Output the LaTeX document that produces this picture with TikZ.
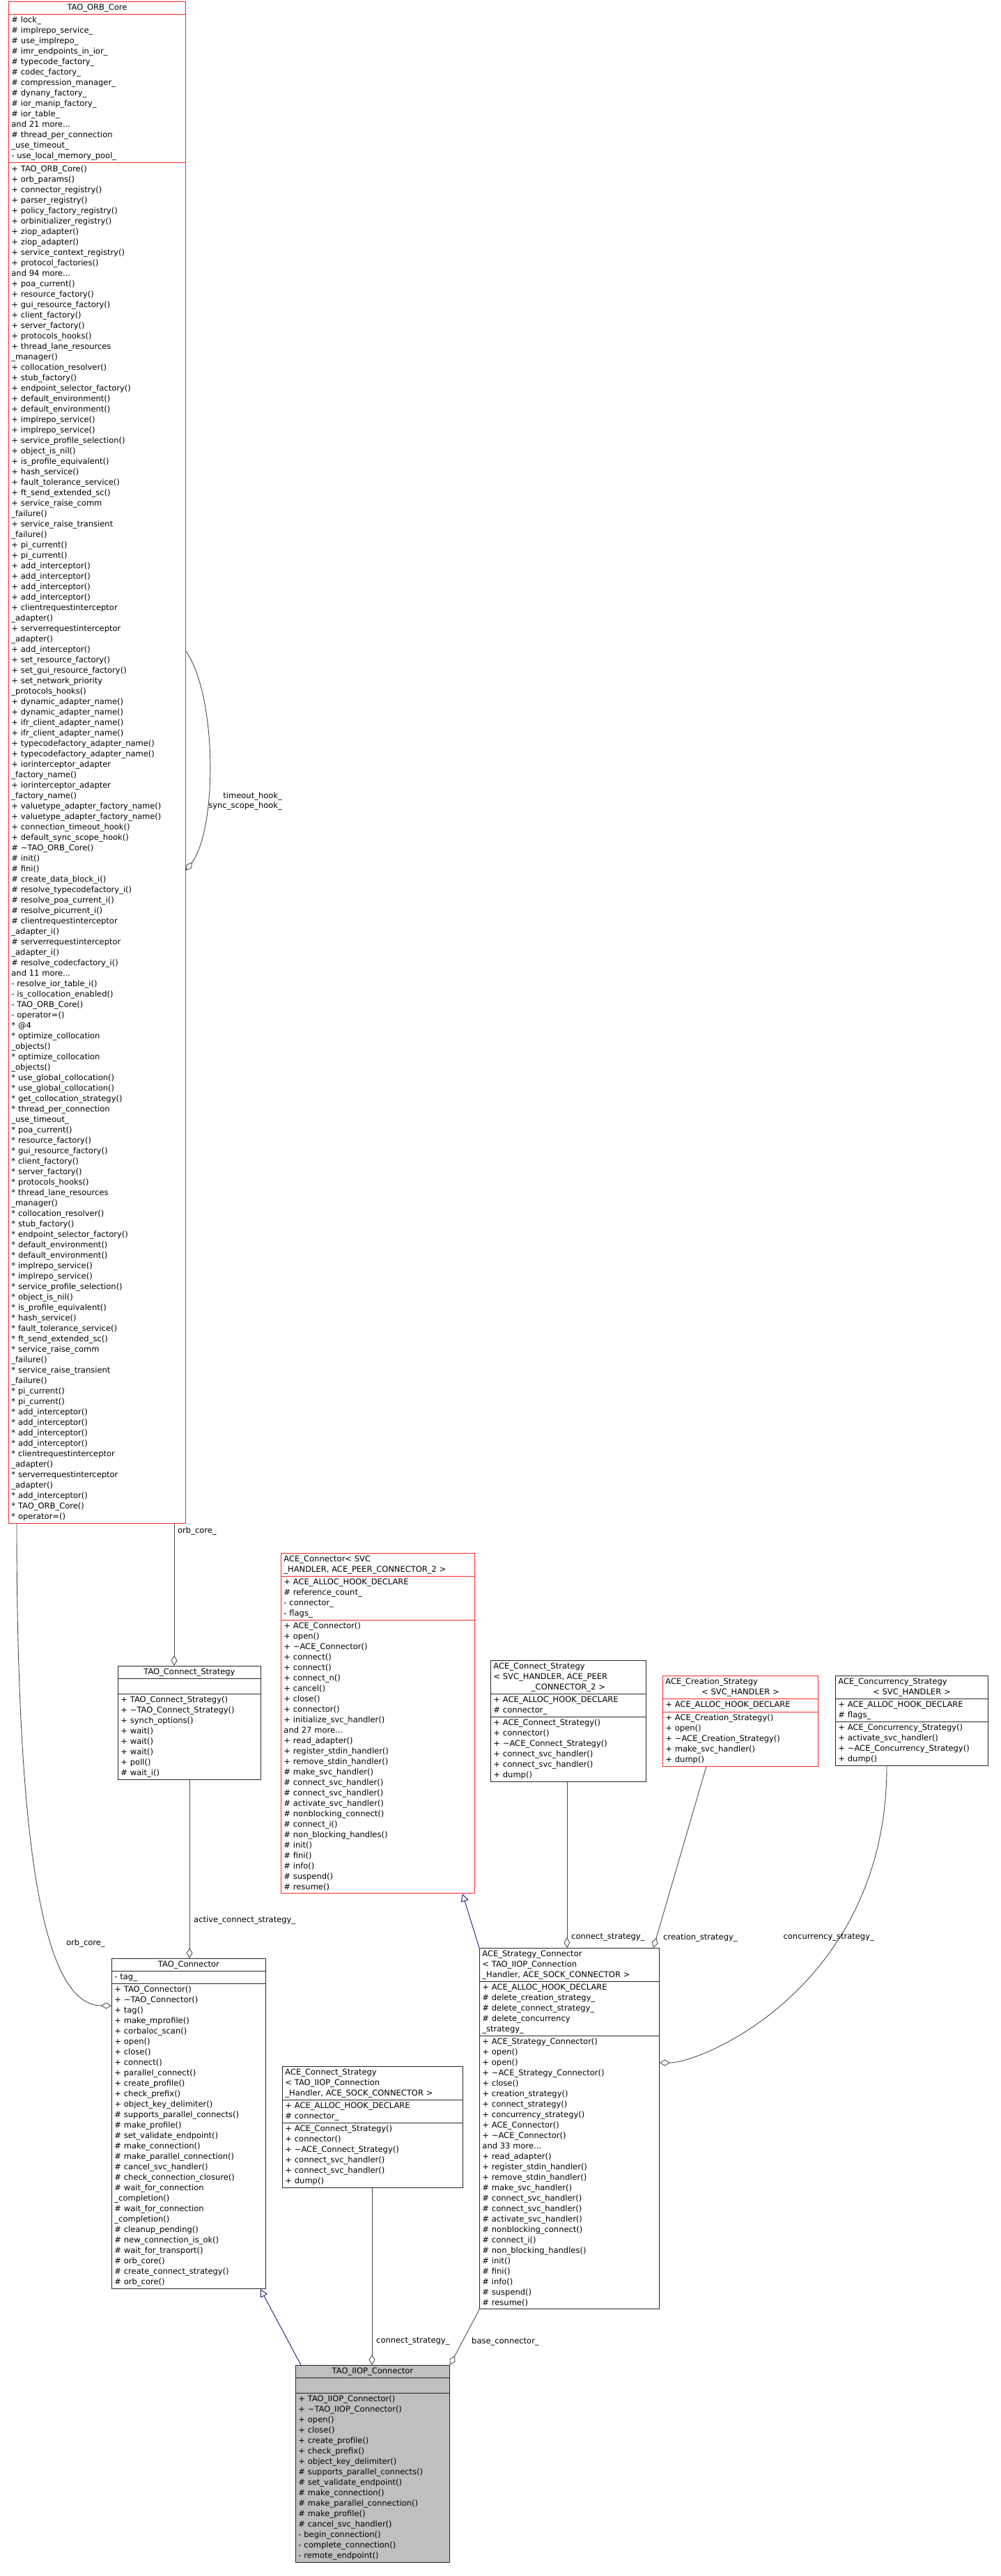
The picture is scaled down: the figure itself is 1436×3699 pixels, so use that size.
\documentclass[tikz,border=0pt]{standalone}
\usepackage{fontspec}
\setmainfont{DejaVu Sans}
\usetikzlibrary{arrows.meta, shapes.multipart}

\newcommand{\ctr}[1]{\makebox[\linewidth]{#1}}
\newcommand{\st}{\relax*}

\tikzset{
  classbox/.style={draw=black!85, line width=0.9pt, rectangle split, rectangle split parts=3,
    align=left, anchor=north west, inner xsep=4pt, inner ysep=3pt,
    font=\fontsize{11.5}{15}\selectfont},
  redbox/.style={classbox, draw=red!85},
  mainbox/.style={classbox, fill=black!25},
  inherit/.style={draw={rgb,255:red,25;green,25;blue,112}, line width=0.9pt, -{Triangle[open, length=11pt, width=11pt]}},
  member/.style={draw=black!70, line width=0.9pt, -{Diamond[open, length=15pt, width=9pt]}},
  lbl/.style={font=\fontsize{11.5}{14}\selectfont, inner sep=0pt}
}

\begin{document}
\begin{tikzpicture}[x=1pt, y=-1pt]
  \useasboundingbox (0,0) rectangle (1436,3699);

  % the core class
  \node[redbox, text width=246pt] (core) at (12,2) {\ctr{TAO\_ORB\_Core}
    \nodepart{two}\# lock\_\\\# implrepo\_service\_\\\# use\_implrepo\_\\\# imr\_endpoints\_in\_ior\_\\\# typecode\_factory\_\\\# codec\_factory\_\\\# compression\_manager\_\\\# dynany\_factory\_\\\# ior\_manip\_factory\_\\\# ior\_table\_\\and 21 more...\\\# thread\_per\_connection\\\_use\_timeout\_\\- use\_local\_memory\_pool\_
    \nodepart{three}+ TAO\_ORB\_Core()\\+ orb\_params()\\+ connector\_registry()\\+ parser\_registry()\\+ policy\_factory\_registry()\\+ orbinitializer\_registry()\\+ ziop\_adapter()\\+ ziop\_adapter()\\+ service\_context\_registry()\\+ protocol\_factories()\\and 94 more...\\+ poa\_current()\\+ resource\_factory()\\+ gui\_resource\_factory()\\+ client\_factory()\\+ server\_factory()\\+ protocols\_hooks()\\+ thread\_lane\_resources\\\_manager()\\+ collocation\_resolver()\\+ stub\_factory()\\+ endpoint\_selector\_factory()\\+ default\_environment()\\+ default\_environment()\\+ implrepo\_service()\\+ implrepo\_service()\\+ service\_profile\_selection()\\+ object\_is\_nil()\\+ is\_profile\_equivalent()\\+ hash\_service()\\+ fault\_tolerance\_service()\\+ ft\_send\_extended\_sc()\\+ service\_raise\_comm\\\_failure()\\+ service\_raise\_transient\\\_failure()\\+ pi\_current()\\+ pi\_current()\\+ add\_interceptor()\\+ add\_interceptor()\\+ add\_interceptor()\\+ add\_interceptor()\\+ clientrequestinterceptor\\\_adapter()\\+ serverrequestinterceptor\\\_adapter()\\+ add\_interceptor()\\+ set\_resource\_factory()\\+ set\_gui\_resource\_factory()\\+ set\_network\_priority\\\_protocols\_hooks()\\+ dynamic\_adapter\_name()\\+ dynamic\_adapter\_name()\\+ ifr\_client\_adapter\_name()\\+ ifr\_client\_adapter\_name()\\+ typecodefactory\_adapter\_name()\\+ typecodefactory\_adapter\_name()\\+ iorinterceptor\_adapter\\\_factory\_name()\\+ iorinterceptor\_adapter\\\_factory\_name()\\+ valuetype\_adapter\_factory\_name()\\+ valuetype\_adapter\_factory\_name()\\+ connection\_timeout\_hook()\\+ default\_sync\_scope\_hook()\\\# \textasciitilde TAO\_ORB\_Core()\\\# init()\\\# fini()\\\# create\_data\_block\_i()\\\# resolve\_typecodefactory\_i()\\\# resolve\_poa\_current\_i()\\\# resolve\_picurrent\_i()\\\# clientrequestinterceptor\\\_adapter\_i()\\\# serverrequestinterceptor\\\_adapter\_i()\\\# resolve\_codecfactory\_i()\\and 11 more...\\- resolve\_ior\_table\_i()\\- is\_collocation\_enabled()\\- TAO\_ORB\_Core()\\- operator=()\\\st{} @4\\\st{} optimize\_collocation\\\_objects()\\\st{} optimize\_collocation\\\_objects()\\\st{} use\_global\_collocation()\\\st{} use\_global\_collocation()\\\st{} get\_collocation\_strategy()\\\st{} thread\_per\_connection\\\_use\_timeout\_\\\st{} poa\_current()\\\st{} resource\_factory()\\\st{} gui\_resource\_factory()\\\st{} client\_factory()\\\st{} server\_factory()\\\st{} protocols\_hooks()\\\st{} thread\_lane\_resources\\\_manager()\\\st{} collocation\_resolver()\\\st{} stub\_factory()\\\st{} endpoint\_selector\_factory()\\\st{} default\_environment()\\\st{} default\_environment()\\\st{} implrepo\_service()\\\st{} implrepo\_service()\\\st{} service\_profile\_selection()\\\st{} object\_is\_nil()\\\st{} is\_profile\_equivalent()\\\st{} hash\_service()\\\st{} fault\_tolerance\_service()\\\st{} ft\_send\_extended\_sc()\\\st{} service\_raise\_comm\\\_failure()\\\st{} service\_raise\_transient\\\_failure()\\\st{} pi\_current()\\\st{} pi\_current()\\\st{} add\_interceptor()\\\st{} add\_interceptor()\\\st{} add\_interceptor()\\\st{} add\_interceptor()\\\st{} clientrequestinterceptor\\\_adapter()\\\st{} serverrequestinterceptor\\\_adapter()\\\st{} add\_interceptor()\\\st{} TAO\_ORB\_Core()\\\st{} operator=()};

  % strategies and connectors
  \node[classbox, text width=197pt] (cstrat) at (169,2392) {\ctr{TAO\_Connect\_Strategy}
    \nodepart{two}\strut
    \nodepart{three}+ TAO\_Connect\_Strategy()\\+ \textasciitilde TAO\_Connect\_Strategy()\\+ synch\_options()\\+ wait()\\+ wait()\\+ wait()\\+ poll()\\\# wait\_i()};

  \node[classbox, text width=213pt] (tconn) at (160,2812) {\ctr{TAO\_Connector}
    \nodepart{two}- tag\_
    \nodepart{three}+ TAO\_Connector()\\+ \textasciitilde TAO\_Connector()\\+ tag()\\+ make\_mprofile()\\+ corbaloc\_scan()\\+ open()\\+ close()\\+ connect()\\+ parallel\_connect()\\+ create\_profile()\\+ check\_prefix()\\+ object\_key\_delimiter()\\\# supports\_parallel\_connects()\\\# make\_profile()\\\# set\_validate\_endpoint()\\\# make\_connection()\\\# make\_parallel\_connection()\\\# cancel\_svc\_handler()\\\# check\_connection\_closure()\\\# wait\_for\_connection\\\_completion()\\\# wait\_for\_connection\\\_completion()\\\# cleanup\_pending()\\\# new\_connection\_is\_ok()\\\# wait\_for\_transport()\\\# orb\_core()\\\# create\_connect\_strategy()\\\# orb\_core()};

  \node[redbox, text width=270pt] (aceconn) at (403,2230) {ACE\_Connector< SVC\\\_HANDLER, ACE\_PEER\_CONNECTOR\_2 >
    \nodepart{two}+ ACE\_ALLOC\_HOOK\_DECLARE\\\# reference\_count\_\\- connector\_\\- flags\_
    \nodepart{three}+ ACE\_Connector()\\+ open()\\+ \textasciitilde ACE\_Connector()\\+ connect()\\+ connect()\\+ connect\_n()\\+ cancel()\\+ close()\\+ connector()\\+ initialize\_svc\_handler()\\and 27 more...\\+ read\_adapter()\\+ register\_stdin\_handler()\\+ remove\_stdin\_handler()\\\# make\_svc\_handler()\\\# connect\_svc\_handler()\\\# connect\_svc\_handler()\\\# activate\_svc\_handler()\\\# nonblocking\_connect()\\\# connect\_i()\\\# non\_blocking\_handles()\\\# init()\\\# fini()\\\# info()\\\# suspend()\\\# resume()};

  \node[classbox, text width=215pt] (acs) at (704,2384) {ACE\_Connect\_Strategy\\< SVC\_HANDLER, ACE\_PEER\\\ctr{\_CONNECTOR\_2 >}
    \nodepart{two}+ ACE\_ALLOC\_HOOK\_DECLARE\\\# connector\_
    \nodepart{three}+ ACE\_Connect\_Strategy()\\+ connector()\\+ \textasciitilde ACE\_Connect\_Strategy()\\+ connect\_svc\_handler()\\+ connect\_svc\_handler()\\+ dump()};

  \node[redbox, text width=215pt] (creat) at (951,2406) {ACE\_Creation\_Strategy\\\ctr{< SVC\_HANDLER >}
    \nodepart{two}+ ACE\_ALLOC\_HOOK\_DECLARE
    \nodepart{three}+ ACE\_Creation\_Strategy()\\+ open()\\+ \textasciitilde ACE\_Creation\_Strategy()\\+ make\_svc\_handler()\\+ dump()};

  \node[classbox, text width=211pt] (conc) at (1199,2406) {ACE\_Concurrency\_Strategy\\\ctr{< SVC\_HANDLER >}
    \nodepart{two}+ ACE\_ALLOC\_HOOK\_DECLARE\\\# flags\_
    \nodepart{three}+ ACE\_Concurrency\_Strategy()\\+ activate\_svc\_handler()\\+ \textasciitilde ACE\_Concurrency\_Strategy()\\+ dump()};

  \node[classbox, text width=250pt] (asc) at (688,2797) {ACE\_Strategy\_Connector\\< TAO\_IIOP\_Connection\\\_Handler, ACE\_SOCK\_CONNECTOR >
    \nodepart{two}+ ACE\_ALLOC\_HOOK\_DECLARE\\\# delete\_creation\_strategy\_\\\# delete\_connect\_strategy\_\\\# delete\_concurrency\\\_strategy\_
    \nodepart{three}+ ACE\_Strategy\_Connector()\\+ open()\\+ open()\\+ \textasciitilde ACE\_Strategy\_Connector()\\+ close()\\+ creation\_strategy()\\+ connect\_strategy()\\+ concurrency\_strategy()\\+ ACE\_Connector()\\+ \textasciitilde ACE\_Connector()\\and 33 more...\\+ read\_adapter()\\+ register\_stdin\_handler()\\+ remove\_stdin\_handler()\\\# make\_svc\_handler()\\\# connect\_svc\_handler()\\\# connect\_svc\_handler()\\\# activate\_svc\_handler()\\\# nonblocking\_connect()\\\# connect\_i()\\\# non\_blocking\_handles()\\\# init()\\\# fini()\\\# info()\\\# suspend()\\\# resume()};

  \node[classbox, text width=251pt] (acsi) at (405,2967) {ACE\_Connect\_Strategy\\< TAO\_IIOP\_Connection\\\_Handler, ACE\_SOCK\_CONNECTOR >
    \nodepart{two}+ ACE\_ALLOC\_HOOK\_DECLARE\\\# connector\_
    \nodepart{three}+ ACE\_Connect\_Strategy()\\+ connector()\\+ \textasciitilde ACE\_Connect\_Strategy()\\+ connect\_svc\_handler()\\+ connect\_svc\_handler()\\+ dump()};

  \node[mainbox, text width=213pt] (iiop) at (424,3396) {\ctr{TAO\_IIOP\_Connector}
    \nodepart{two}\strut
    \nodepart{three}+ TAO\_IIOP\_Connector()\\+ \textasciitilde TAO\_IIOP\_Connector()\\+ open()\\+ close()\\+ create\_profile()\\+ check\_prefix()\\+ object\_key\_delimiter()\\\# supports\_parallel\_connects()\\\# set\_validate\_endpoint()\\\# make\_connection()\\\# make\_parallel\_connection()\\\# make\_profile()\\\# cancel\_svc\_handler()\\- begin\_connection()\\- complete\_connection()\\- remote\_endpoint()};

  % links
  \draw[member] ([yshift=-933pt]core.north east) .. controls (312,1000) and (312,1190) .. ([yshift=-1248pt]core.north east);
  \node[lbl, align=right, anchor=east] (hooklbl) at (405,1150) {timeout\_hook\_\\sync\_scope\_hook\_};

  \draw[member] ([xshift=12pt]core.south west) .. controls (24,2700) and (70,2880) .. ([yshift=-68pt]tconn.north west);
  \node[lbl, anchor=west] (orblbl) at (95,2790) {orb\_core\_};

  \draw[member] ([xshift=238pt]core.south west) -- ([xshift=81pt]cstrat.north west);
  \node[lbl, anchor=west] (orblbl2) at (255,2198) {orb\_core\_};

  \draw[member] ([xshift=103pt]cstrat.south west) -- ([xshift=112pt]tconn.north west);
  \node[lbl, anchor=west] (actlbl) at (278,2757) {active\_connect\_strategy\_};

  \draw[inherit] ([xshift=8pt]iiop.north west) -- ([xshift=-8pt]tconn.south east);
  \draw[inherit] (asc.north west) -- ([xshift=-18pt]aceconn.south east);

  \draw[member] ([xshift=110pt]acs.south west) -- ([xshift=126pt]asc.north west);
  \node[lbl, anchor=west] (cslbl) at (820,2782) {connect\_strategy\_};

  \draw[member] ([xshift=63pt]creat.south west) -- ([xshift=250pt]asc.north west);
  \node[lbl, anchor=west] (crlbl) at (952,2782) {creation\_strategy\_};

  \draw[member] ([xshift=74pt]conc.south west) .. controls (1273,2850) and (1010,2962) .. ([yshift=-165pt]asc.north east);
  \node[lbl, anchor=east] (cclbl) at (1255,2782) {concurrency\_strategy\_};

  \draw[member] ([xshift=129pt]acsi.south west) -- ([xshift=110pt]iiop.north west);
  \node[lbl, anchor=west] (cs2lbl) at (540,3362) {connect\_strategy\_};

  \draw[member] (asc.south west) -- (iiop.north east);
  \node[lbl, anchor=west] (baselbl) at (677,3362) {base\_connector\_};
\end{tikzpicture}
\end{document}
